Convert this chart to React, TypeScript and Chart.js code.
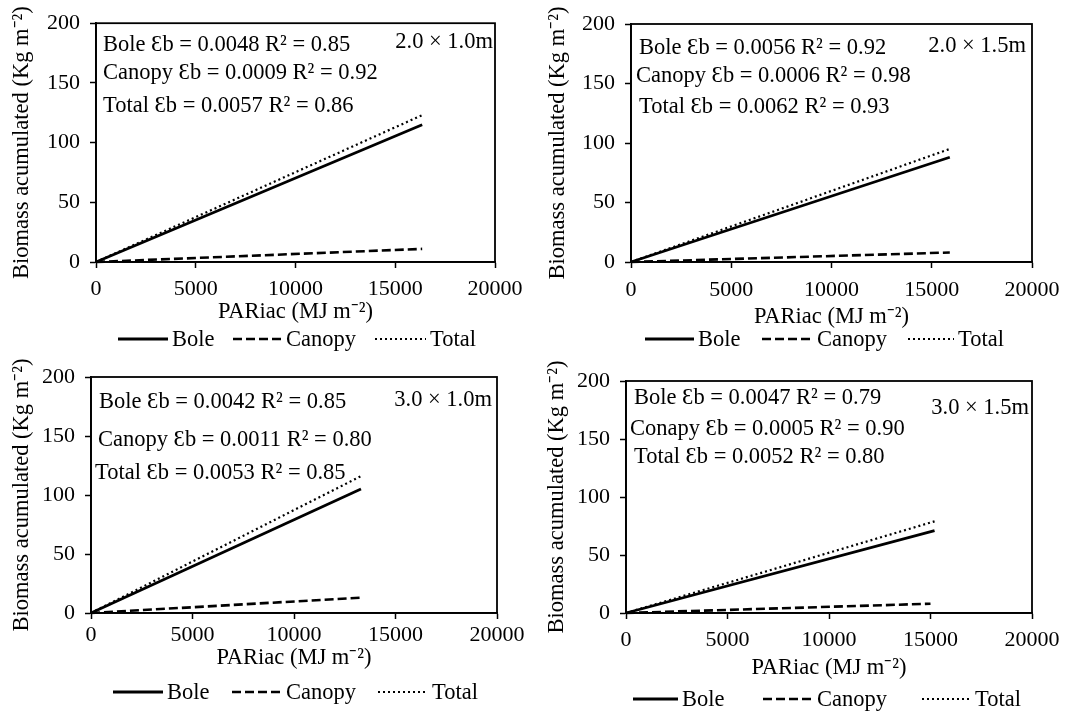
import React, { useEffect, useRef } from "react";
import { Chart, registerables } from "chart.js";

Chart.register(...registerables);

// ---- data ----
const panelNames = ["2.0 × 1.0m", "2.0 × 1.5m", "3.0 × 1.0m", "3.0 × 1.5m"];
const seriesNames = ["Bole", "Canopy", "Total"];
const xTickValues = [0, 5000, 10000, 15000, 20000];
const yTickValues = [0, 50, 100, 150, 200];
const pariacEnd = [16350, 15900, 13300, 15200];
const canopyPariacEnd = [16350, 15900, 13300, 15000];
const boleEnd = [115, 88, 105, 71];
const canopyEnd = [11, 8, 13, 8];
const totalEnd = [123, 95, 116, 79];
const boleEq = [
  "Bole Ɛb = 0.0048 R² = 0.85",
  "Bole Ɛb = 0.0056 R² = 0.92",
  "Bole Ɛb = 0.0042 R² = 0.85",
  "Bole Ɛb = 0.0047 R² = 0.79",
];
const canopyEq = [
  "Canopy Ɛb = 0.0009 R² = 0.92",
  "Canopy Ɛb = 0.0006 R² = 0.98",
  "Canopy Ɛb = 0.0011 R² = 0.80",
  "Conapy Ɛb = 0.0005 R² = 0.90",
];
const totalEq = [
  "Total Ɛb = 0.0057 R² = 0.86",
  "Total Ɛb = 0.0062 R² = 0.93",
  "Total Ɛb = 0.0053 R² = 0.85",
  "Total Ɛb = 0.0052 R² = 0.80",
];
const xTitle = "PARiac (MJ m⁻²)";
const yTitle = "Biomass acumulated (Kg m⁻²)";

// ---- layout (pixel geometry of each panel) ----
const W = 1074;
const H = 713;
const FONT = '"Liberation Serif", "Times New Roman", serif';
const FS_TICK = 22;
const FS_TEXT = 22.5;
const LH = FS_TEXT * 1.2;
const TICK_LEN = 6;

const GEOM = [
  { L: 96, R: 495, T: 22, B: 262, yTitleX: 22, xLabelY: 289, xTitleY: 312, legendY: 339,
    legend: [[118, 172], [233, 286], [375, 430]],
    eq: [[103, 45], [103, 73], [103, 106]], name: [493, 42] },
  { L: 631, R: 1032, T: 24, B: 262, yTitleX: 558, xLabelY: 290, xTitleY: 317, legendY: 339,
    legend: [[645, 698], [762, 817], [908, 958]],
    eq: [[639, 48], [636, 76], [639, 107]], name: [1026, 46] },
  { L: 91, R: 497, T: 377, B: 613, yTitleX: 22, xLabelY: 635, xTitleY: 658, legendY: 692,
    legend: [[113, 167], [232, 286], [378, 432]],
    eq: [[99, 402], [98, 440], [95, 473]], name: [492, 400] },
  { L: 626, R: 1032, T: 381, B: 613, yTitleX: 557, xLabelY: 640, xTitleY: 668, legendY: 699,
    legend: [[633, 682], [763, 817], [922, 975]],
    eq: [[634, 398], [630, 429], [634, 457]], name: [1029, 408] },
];

const overlayPlugin = {
  id: "overlay",
  afterDatasetsDraw(chart: any) {
    const { ctx, chartArea: a } = chart;
    ctx.save();
    ctx.strokeStyle = "#000";
    ctx.lineWidth = 1.8;
    ctx.setLineDash([]);
    ctx.strokeRect(a.left, a.top, a.right - a.left, a.bottom - a.top);
    ctx.restore();
  },
  afterDraw(chart: any, _args: any, opts: any) {
    const { ctx } = chart;
    const i = opts.index;
    const g = GEOM[i];
    ctx.save();
    ctx.fillStyle = "#000";
    ctx.font = `${FS_TEXT}px ${FONT}`;
    ctx.textBaseline = "middle";
    ctx.textAlign = "left";
    const eqs = [boleEq[i], canopyEq[i], totalEq[i]];
    eqs.forEach((t, k) => ctx.fillText(t, g.eq[k][0], g.eq[k][1]));
    ctx.textAlign = "right";
    ctx.fillText(panelNames[i], g.name[0], g.name[1]);
    // legend
    ctx.textAlign = "left";
    chart.data.datasets.forEach((ds: any, k: number) => {
      const [lx, tx] = g.legend[k];
      ctx.save();
      ctx.strokeStyle = ds.borderColor;
      ctx.lineWidth = ds.borderWidth;
      ctx.setLineDash(ds.borderDash || []);
      ctx.beginPath();
      ctx.moveTo(lx, g.legendY);
      ctx.lineTo(tx - 4, g.legendY);
      ctx.stroke();
      ctx.restore();
      ctx.fillText(ds.label, tx, g.legendY + 1);
    });
    ctx.restore();
  },
};

function makeConfig(i: number): any {
  const g = GEOM[i];
  const yW = g.L - (g.yTitleX - LH / 2);
  const xH = g.xTitleY + LH / 2 - g.B;
  const xLabelPad = g.xLabelY - g.B - TICK_LEN - (FS_TICK * 1.2) / 2;
  const ends = [boleEnd[i], canopyEnd[i], totalEnd[i]];
  const xEnds = [pariacEnd[i], canopyPariacEnd[i], pariacEnd[i]];
  const styles = [
    { borderWidth: 2.8, borderDash: [] as number[] },
    { borderWidth: 2.6, borderDash: [9, 4] },
    { borderWidth: 2.2, borderDash: [2, 3] },
  ];
  const tickFont = { family: FONT, size: FS_TICK };
  const titleFont = { family: FONT, size: FS_TEXT };
  return {
    type: "line",
    data: {
      datasets: seriesNames.map((name, k) => ({
        label: name,
        data: [
          { x: 0, y: 0 },
          { x: xEnds[k], y: ends[k] },
        ],
        borderColor: "#000",
        backgroundColor: "#000",
        borderWidth: styles[k].borderWidth,
        borderDash: styles[k].borderDash,
        pointRadius: 0,
        tension: 0,
        clip: false,
      })),
    },
    options: {
      responsive: false,
      animation: false,
      events: [],
      layout: {
        padding: {
          left: g.L - yW,
          right: W - g.R,
          top: g.T,
          bottom: H - g.B - xH,
        },
      },
      plugins: {
        legend: { display: false },
        tooltip: { enabled: false },
        overlay: { index: i },
      },
      scales: {
        x: {
          type: "linear",
          min: 0,
          max: 20000,
          afterBuildTicks: (s: any) => {
            s.ticks = xTickValues.map((v) => ({ value: v }));
          },
          afterFit: (s: any) => {
            s.height = xH;
          },
          ticks: {
            color: "#000",
            font: tickFont,
            padding: xLabelPad,
            maxRotation: 0,
            autoSkip: false,
            callback: (v: any) => String(v),
          },
          grid: {
            drawOnChartArea: false,
            drawTicks: true,
            tickLength: TICK_LEN,
            color: "#000",
            tickColor: "#000",
            tickWidth: 1.5,
          },
          border: { display: true, color: "#000", width: 1.8 },
          title: { display: true, text: xTitle, color: "#000", font: titleFont, padding: 0 },
        },
        y: {
          type: "linear",
          min: 0,
          max: 200,
          afterBuildTicks: (s: any) => {
            s.ticks = yTickValues.map((v) => ({ value: v }));
          },
          afterFit: (s: any) => {
            s.width = yW;
          },
          ticks: { color: "#000", font: tickFont, padding: 10, autoSkip: false },
          grid: {
            drawOnChartArea: false,
            drawTicks: true,
            tickLength: TICK_LEN,
            color: "#000",
            tickColor: "#000",
            tickWidth: 1.5,
          },
          border: { display: true, color: "#000", width: 1.8 },
          title: { display: true, text: yTitle, color: "#000", font: titleFont, padding: 0 },
        },
      },
    },
    plugins: [overlayPlugin],
  };
}

function Panel({ index }: { index: number }) {
  const ref = useRef<HTMLCanvasElement | null>(null);
  useEffect(() => {
    if (!ref.current) return;
    const chart = new Chart(ref.current, makeConfig(index));
    return () => chart.destroy();
  }, [index]);
  return (
    <canvas
      ref={ref}
      width={W}
      height={H}
      style={{ position: "absolute", left: 0, top: 0, width: W, height: H, pointerEvents: "none" }}
    />
  );
}

export default function App() {
  return (
    <div style={{ position: "absolute", left: 0, top: 0, width: W, height: H, background: "#fff" }}>
      {[0, 1, 2, 3].map((i) => (
        <Panel key={i} index={i} />
      ))}
    </div>
  );
}
